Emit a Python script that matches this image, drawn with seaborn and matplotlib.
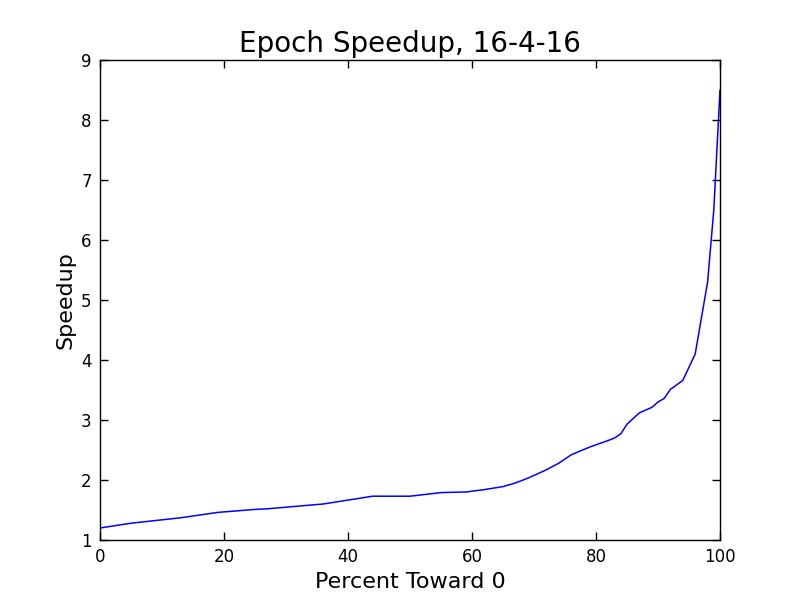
import pandas as pd
import seaborn as sns
import matplotlib
matplotlib.use('Agg')
import matplotlib.pyplot as plt

# values
percent = [0, 5, 13, 19, 25, 27, 36, 44, 50, 55, 59, 62, 65, 67, 69, 72, 74, 76,
           79, 82, 83, 84, 85, 87, 89, 90, 91, 92, 94, 96, 97, 98, 99, 100]
speedup = [1.20, 1.28, 1.37, 1.46, 1.51, 1.52, 1.60, 1.73, 1.73, 1.79, 1.80, 1.84,
           1.89, 1.95, 2.03, 2.17, 2.28, 2.42, 2.55, 2.66, 2.70, 2.77, 2.93, 3.12,
           3.21, 3.30, 3.36, 3.51, 3.66, 4.10, 4.70, 5.30, 6.50, 8.50]

df = pd.DataFrame({'percent': percent, 'speedup': speedup})

sns.set_style('white')
plt.rcParams['font.family'] = ['DejaVu Sans']
plt.rcParams['text.color'] = 'black'
plt.rcParams['axes.labelcolor'] = 'black'
plt.rcParams['xtick.color'] = 'black'
plt.rcParams['ytick.color'] = 'black'

fig = plt.figure(figsize=(8, 6), dpi=100)
ax = fig.add_axes([0.125, 0.1, 0.775, 0.8])
sns.lineplot(x='percent', y='speedup', data=df, color='blue', linewidth=1.1, ax=ax)

ax.set_xlim(0, 100)
ax.set_ylim(1, 9)
ax.set_xticks([0, 20, 40, 60, 80, 100])
ax.set_yticks(range(1, 10))
ax.tick_params(direction='in', length=6, width=1, labelsize=12, top=True, right=True,
               bottom=True, left=True, pad=6, colors='black')
for s in ax.spines.values():
    s.set_color('black')
    s.set_linewidth(1)

ax.set_title('Epoch Speedup, 16-4-16', fontsize=20, color='black')
ax.set_xlabel('Percent Toward 0', fontsize=16, color='black')
ax.set_ylabel('Speedup', fontsize=16, color='black')

fig.savefig('out.png', dpi=100, facecolor='white')
